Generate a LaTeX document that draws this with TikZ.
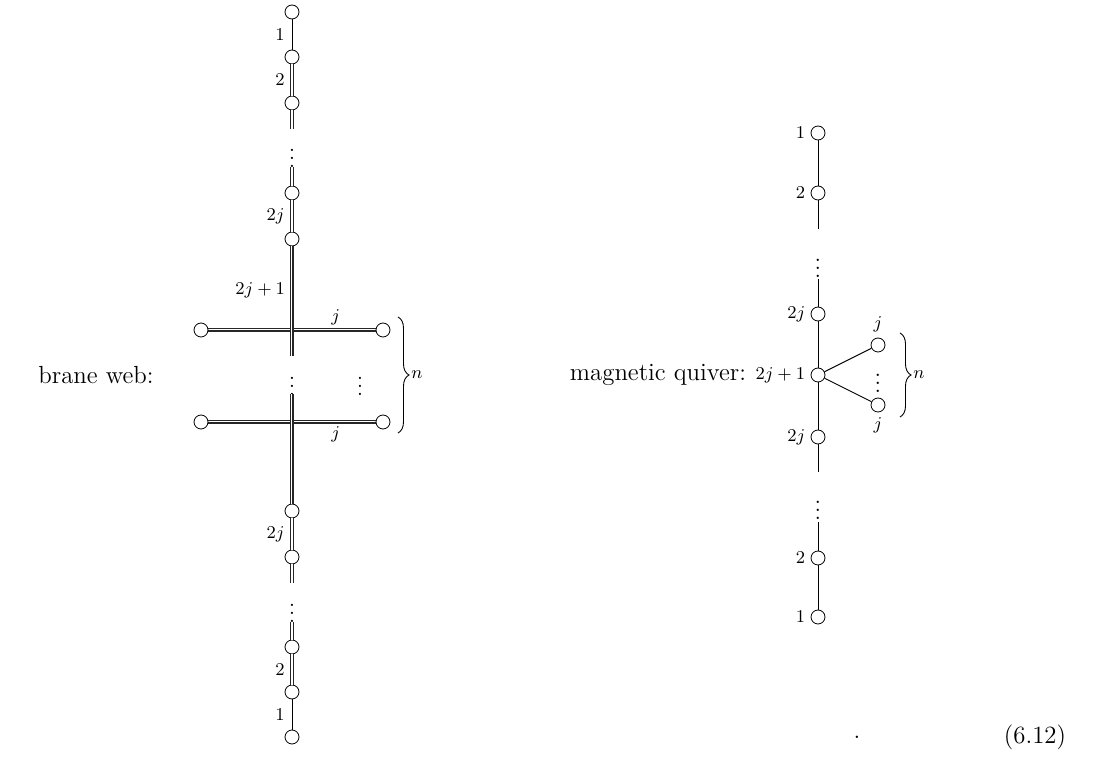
\documentclass[tikz,border=0pt]{standalone}
\usepackage{amsmath}
\usepackage{tikz}
\usetikzlibrary{positioning, decorations.pathreplacing}

\begin{document}
\begin{tikzpicture}[
    x=0.5pt, y=-0.5pt,
    gauge/.style={circle, draw, fill=white, inner sep=0pt, minimum size=7pt},
    lbl/.style={font=\fontsize{9}{10}\selectfont, inner sep=1.5pt},
    txt/.style={font=\fontsize{12.4}{14}\selectfont},
    dotsb/.style={font=\fontsize{10.5}{12}\selectfont, inner sep=0pt},
    dotsq/.style={font=\fontsize{12}{14}\selectfont, inner sep=0pt},
    one/.style={draw, line width=0.45pt},
    two/.style={draw=black!85, line width=0.45pt, double distance=0.9pt},
    many/.style={draw=black!85, line width=2pt, postaction={draw=white, line width=1.2pt}, postaction={draw=black!85, line width=0.4pt}},
    nbrace/.style={decorate, decoration={brace, amplitude=5.5pt}, line width=0.45pt}
]
    \useasboundingbox (0,0) rectangle (1120,769);

    % brane web
    \node[txt] (bwtitle) at (96,375) {brane web:};

    \coordinate (hl1) at (201,330);
    \coordinate (hr1) at (383,330);
    \coordinate (hl2) at (201,422);
    \coordinate (hr2) at (383,422);
    \draw[many] (hl1) -- node[lbl, pos=0.74, above] {$j$} (hr1);
    \draw[many] (hl2) -- node[lbl, pos=0.74, below] {$j$} (hr2);

    \node[gauge] (b1) at (292,12) {};
    \node[gauge] (b2) at (292,57) {};
    \node[gauge] (b3) at (292,103) {};
    \coordinate (b3e) at (292,129);
    \node[dotsb] (bdots1) at (292,152) {$\vdots$};
    \coordinate (b4s) at (292,167);
    \node[gauge] (b4) at (292,193) {};
    \node[gauge] (b5) at (292,239) {};
    \coordinate (b5e) at (292,356);
    \node[dotsb] (bdots2) at (292,380) {$\vdots$};
    \node[dotsb] (bdots3) at (360,380) {$\vdots$};
    \coordinate (b6s) at (292,394);
    \node[gauge] (b6) at (292,511) {};
    \node[gauge] (b7) at (292,557) {};
    \coordinate (b7e) at (292,583);
    \node[dotsb] (bdots4) at (292,607) {$\vdots$};
    \coordinate (b8s) at (292,622);
    \node[gauge] (b8) at (292,647) {};
    \node[gauge] (b9) at (292,692) {};
    \node[gauge] (b10) at (292,737) {};

    \draw[one] (b1) -- node[lbl, left=2pt] {$1$} (b2);
    \draw[two] (b2) -- node[lbl, left=2pt] {$2$} (b3);
    \draw[two] (b3) -- (b3e);
    \draw[two] (b4s) -- (b4);
    \draw[two] (b4) -- node[lbl, left=2pt] {$2j$} (b5);
    \draw[many] (b5) -- node[lbl, pos=0.4, left=1pt] {$2j+1$} (b5e);
    \draw[many] (b6s) -- (b6);
    \draw[two] (b6) -- node[lbl, left=2pt] {$2j$} (b7);
    \draw[two] (b7) -- (b7e);
    \draw[two] (b8s) -- (b8);
    \draw[two] (b8) -- node[lbl, left=2pt] {$2$} (b9);
    \draw[one] (b9) -- node[lbl, left=2pt] {$1$} (b10);

    \node[gauge] (bl1) at (hl1) {};
    \node[gauge] (br1) at (hr1) {};
    \node[gauge] (bl2) at (hl2) {};
    \node[gauge] (br2) at (hr2) {};

    \draw[nbrace] (398,317) -- node[lbl, right=5pt] {$n$} (398,433);

    % magnetic quiver
    \node[txt] (mqtitle) at (658,375) {magnetic quiver:};

    \node[gauge] (q1) at (818,133) {};
    \node[gauge] (q2) at (818,193) {};
    \coordinate (q2e) at (818,229);
    \node[dotsq] (qdots1) at (818,262) {$\vdots$};
    \coordinate (q3s) at (818,279);
    \node[gauge] (q3) at (818,314) {};
    \node[gauge] (q4) at (818,375) {};
    \node[gauge] (qa) at (878,345) {};
    \node[gauge] (qb) at (878,405) {};
    \node[dotsq] (qdots2) at (878,377) {$\vdots$};
    \node[gauge] (q5) at (818,437) {};
    \coordinate (q5e) at (818,472);
    \node[dotsq] (qdots3) at (818,504) {$\vdots$};
    \coordinate (q6s) at (818,522);
    \node[gauge] (q6) at (818,558) {};
    \node[gauge] (q7) at (818,617) {};

    \node[lbl, left=1pt of q1] {$1$};
    \node[lbl, left=1pt of q2] {$2$};
    \node[lbl, left=1pt of q3] {$2j$};
    \node[lbl, left=1pt of q4] {$2j+1$};
    \node[lbl, left=1pt of q5] {$2j$};
    \node[lbl, left=1pt of q6] {$2$};
    \node[lbl, left=1pt of q7] {$1$};
    \node[lbl, above=1pt of qa] {$j$};
    \node[lbl, below=1pt of qb] {$j$};

    \draw[one] (q1) -- (q2);
    \draw[one] (q2) -- (q2e);
    \draw[one] (q3s) -- (q3);
    \draw[one] (q3) -- (q4);
    \draw[one] (q4) -- (qa);
    \draw[one] (q4) -- (qb);
    \draw[one] (q4) -- (q5);
    \draw[one] (q5) -- (q5e);
    \draw[one] (q6s) -- (q6);
    \draw[one] (q6) -- (q7);

    \draw[nbrace] (900,333) -- node[lbl, right=5pt] {$n$} (900,417);

    % equation number
    \node[txt] (dot) at (857,737) {.};
    \node[txt] (eqno) at (1035,737) {(6.12)};
\end{tikzpicture}
\end{document}
